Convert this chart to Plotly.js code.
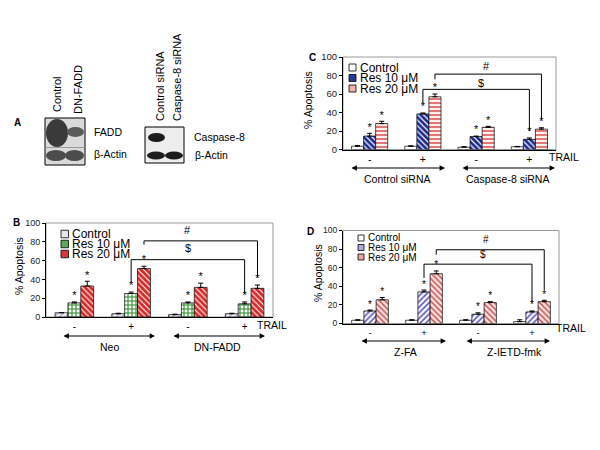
<!DOCTYPE html>
<html>
<head>
<meta charset="utf-8">
<script src="https://cdn.plot.ly/plotly-3.0.1.min.js"></script>
<style>html,body{margin:0;padding:0;background:#fff}</style>
</head>
<body>
<div id="chart" style="width:600px;height:450px"></div>
<script>
// each panel: 4 groups along x, TRAIL - / + / - / +
const groupPos = [0, 1, 2, 3]
const trailTicks = ['-', '+', '-', '+']
const seriesNames = ['Control', 'Res 10 μM', 'Res 20 μM']

// B: Neo / DN-FADD
const bControl = [4.5, 3.5, 2.5, 3.5]
const bControlErr = [0.3, 0.5, 0.5, 0.5]
const bRes10 = [15, 25, 15, 14]
const bRes10Err = [1, 1.5, 1, 2]
const bRes20 = [33, 51.5, 31.5, 30.5]
const bRes20Err = [5, 2.5, 4.5, 3.5]
const bGroups = ['Neo', 'DN-FADD']

// C: control siRNA / caspase-8 siRNA
const cControl = [3.5, 3.5, 2.5, 3]
const cControlErr = [0.8, 0.5, 0.5, 0.3]
const cRes10 = [14.5, 38.5, 14, 11]
const cRes10Err = [3, 1, 0.5, 1.5]
const cRes20 = [28, 57, 24, 22]
const cRes20Err = [2.5, 3, 1, 1.5]
const cGroups = ['Control siRNA', 'Caspase-8 siRNA']

// D: Z-FA / Z-IETD-fmk
const dControl = [3.5, 3.5, 3.5, 2]
const dControlErr = [0.5, 0.5, 0.5, 2]
const dRes10 = [13.5, 34, 10, 12.5]
const dRes10Err = [1, 2, 1.5, 1]
const dRes20 = [25.5, 53.5, 22.5, 23.5]
const dRes20Err = [2.5, 3, 1, 1.5]
const dGroups = ['Z-FA', 'Z-IETD-fmk']

// significance brackets: [bar level, left end, right end], labels: [x, y]
const bHash = [81, 77, 42], bDollar = [61, 37, 25]
const bHashLabel = [2.0, 93], bDollarLabel = [2.0, 73]
const cHash = [81.5, 76, 31.5], cDollar = [65, 50, 20]
const cHashLabel = [2.2, 90], cDollarLabel = [2.1, 72]
const dHash = [79.3, 74, 36], dDollar = [63.8, 49, 23]
const dHashLabel = [2.15, 90], dDollarLabel = [2.1, 74]

const FONT = 'Arial, "Liberation Sans", sans-serif'
const W = 600, H = 450
const BARGAP = 0.32

function px(x){ return x / W }
function py(y){ return 1 - y / H }
// centre of bar k inside group i (barmode group, 3 traces)
function barX(i, k){ return i + (k - 1) * (1 - BARGAP) / 3 }

let traces = []
let shapes = []
let annotations = []
let layout = {
  width: W, height: H,
  margin: {l: 0, r: 0, t: 0, b: 0},
  paper_bgcolor: '#fff',
  plot_bgcolor: 'rgba(0,0,0,0)',
  showlegend: false,
  barmode: 'group',
  bargap: BARGAP,
  bargroupgap: 0,
  font: {family: FONT, color: '#000'}
}

function text(x, y, t, size, opts){
  let a = {xref: 'paper', yref: 'paper', x: px(x), y: py(y), text: t, showarrow: false,
    font: {size: size, family: FONT, color: '#000'}, xanchor: 'center', yanchor: 'middle'}
  return Object.assign(a, opts || {})
}
function box(x0, y0, x1, y1, kind, fill, line){
  return {type: kind, xref: 'paper', yref: 'paper', x0: px(x0), x1: px(x1), y0: py(y1), y1: py(y0),
    fillcolor: fill, line: line || {width: 0}}
}
function arrow(x0, x1, y){
  return {xref: 'paper', yref: 'paper', x: px(x1), y: py(y), ax: -(x1 - x0), ay: 0,
    axref: 'pixel', ayref: 'pixel', text: '', showarrow: true, arrowhead: 2, startarrowhead: 2,
    arrowside: 'end+start', arrowsize: 0.9, arrowwidth: 1.2, arrowcolor: '#000'}
}

function panel(p){
  let n = p.axis
  let xa = 'x' + n, ya = 'y' + n
  let xkey = 'xaxis' + n, ykey = 'yaxis' + n
  layout[xkey] = {
    domain: [px(p.box[0]), px(p.box[1])], anchor: ya, range: [-0.5, 3.5],
    tickvals: groupPos, ticktext: trailTicks, tickfont: {size: p.tick + 1},
    showline: true, linecolor: '#000', linewidth: 1, ticks: '', showgrid: false, zeroline: false
  }
  layout[ykey] = {
    domain: [py(p.box[3]), py(p.box[2])], anchor: xa, range: [0, 100], tick0: 0, dtick: 20,
    ticks: 'outside', ticklen: 3, tickcolor: '#000', tickfont: {size: p.tick, color: '#222'},
    showline: true, linecolor: '#000', linewidth: 1, showgrid: false, zeroline: false
  }
  // grey plot-area frame
  shapes.push({type: 'rect', xref: xa + ' domain', yref: ya + ' domain', x0: 0, x1: 1, y0: 0, y1: 1,
    line: {color: '#9a9a9a', width: 1}, layer: 'below'})

  let starX = [], starY = []
  p.series.forEach(function(s, k){
    traces.push({
      type: 'bar', name: seriesNames[k], x: groupPos, y: s.y, xaxis: xa, yaxis: ya,
      marker: {color: s.pattern ? s.pattern.bgcolor : s.swatch, line: {color: '#000', width: 0.7},
        pattern: s.pattern || {shape: ''}},
      error_y: {type: 'data', symmetric: false, array: s.err, arrayminus: s.err.map(function(){ return 0 }),
        color: '#000', thickness: 1, width: 2.5}
    })
    if(k > 0){
      for(let i = 0; i < groupPos.length; i++){
        starX.push(barX(groupPos[i], k))
        starY.push(s.y[i] + s.err[i])
      }
    }
    // legend row
    let ry = p.legend.rows[k]
    let sw = p.legend.sw
    shapes.push(box(p.legend.x, ry - sw / 2, p.legend.x + sw, ry + sw / 2, 'rect', s.swatch,
      {color: '#000', width: 0.8}))
    annotations.push(text(p.legend.x + sw + 1.5, ry, seriesNames[k], p.legend.size, {xanchor: 'left'}))
  })
  traces.push({type: 'scatter', mode: 'text', x: starX, y: starY, xaxis: xa, yaxis: ya,
    text: starX.map(function(){ return '*' }), textposition: 'top center',
    textfont: {size: p.star, family: FONT, color: '#000'}, cliponaxis: false, hoverinfo: 'skip'})

  // brackets
  ;[[p.hash, 2, p.hashLabel, '#'], [p.dollar, 1, p.dollarLabel, '$']].forEach(function(b){
    let lv = b[0], k = b[1]
    let x1 = barX(1, k), x2 = barX(3, k)
    shapes.push({type: 'path', xref: xa, yref: ya,
      path: 'M' + x1 + ',' + lv[1] + ' L' + x1 + ',' + lv[0] + ' L' + x2 + ',' + lv[0] + ' L' + x2 + ',' + lv[2],
      line: {color: '#000', width: 1}})
    annotations.push({xref: xa, yref: ya, x: b[2][0], y: b[2][1], text: b[3], showarrow: false,
      font: {size: p.mark, family: FONT, color: '#000'}})
  })

  annotations.push(text(p.letter[0], p.letter[1], '<b>' + p.letter[2] + '</b>', 10))
  annotations.push(text(p.ytitle[0], p.ytitle[1], '% Apoptosis', 10.5, {textangle: -90}))
  annotations.push(text(p.trail[0], p.trail[1], 'TRAIL', 10.5))
  p.arrows.forEach(function(a, j){
    annotations.push(arrow(a[0], a[1], p.arrowY))
    annotations.push(text(p.groupX[j], p.arrowY + 11, p.groups[j], 10.5))
  })
}

panel({
  axis: '', box: [46, 273, 223, 317], tick: 9, star: 11, mark: 11,
  series: [
    {y: bControl, err: bControlErr, swatch: '#e6e6ef',
      pattern: {shape: '/', bgcolor: '#f2f2f8', fgcolor: '#a4a4c4', size: 4, solidity: 0.3}},
    {y: bRes10, err: bRes10Err, swatch: '#5ea85e',
      pattern: {shape: '+', bgcolor: '#ffffff', fgcolor: '#1f8a1f', size: 4, solidity: 0.45}},
    {y: bRes20, err: bRes20Err, swatch: '#d63a3a',
      pattern: {shape: '\\', bgcolor: '#d42a2a', fgcolor: '#ffffff', size: 4, solidity: 0.28}}
  ],
  legend: {x: 61, sw: 7.5, rows: [234, 244, 254], size: 12},
  hash: bHash, dollar: bDollar, hashLabel: bHashLabel, dollarLabel: bDollarLabel,
  letter: [16, 222, 'B'], ytitle: [19, 266], trail: [272, 325],
  arrowY: 336, arrows: [[62, 155], [172, 265]], groupX: [110, 217], groups: bGroups
})

panel({
  axis: '2', box: [343, 556, 57, 149.5], tick: 9.5, star: 11, mark: 11,
  series: [
    {y: cControl, err: cControlErr, swatch: '#ffffff'},
    {y: cRes10, err: cRes10Err, swatch: '#2a3a98',
      pattern: {shape: '\\', bgcolor: '#1a2a8e', fgcolor: '#ffffff', size: 4, solidity: 0.3}},
    {y: cRes20, err: cRes20Err, swatch: '#f2b0b0',
      pattern: {shape: '-', bgcolor: '#fff2f2', fgcolor: '#e06a6a', size: 4, solidity: 0.45}}
  ],
  legend: {x: 349, sw: 7, rows: [67.5, 78, 88.5], size: 12},
  hash: cHash, dollar: cDollar, hashLabel: cHashLabel, dollarLabel: cDollarLabel,
  letter: [313, 57, 'C'], ytitle: [308, 100], trail: [564, 157],
  arrowY: 168, arrows: [[350, 445], [461, 555]], groupX: [397, 507], groups: cGroups
})

panel({
  axis: '3', box: [343, 559, 230.5, 323.5], tick: 8.5, star: 10, mark: 10,
  series: [
    {y: dControl, err: dControlErr, swatch: '#ffffff'},
    {y: dRes10, err: dRes10Err, swatch: '#aaaade',
      pattern: {shape: '/', bgcolor: '#f4f4fc', fgcolor: '#4a4aa8', size: 4, solidity: 0.35}},
    {y: dRes20, err: dRes20Err, swatch: '#eaa2a2',
      pattern: {shape: '\\', bgcolor: '#f9e0e0', fgcolor: '#c84848', size: 4, solidity: 0.35}}
  ],
  legend: {x: 358, sw: 6, rows: [238, 247.5, 257], size: 10},
  hash: dHash, dollar: dDollar, hashLabel: dHashLabel, dollarLabel: dDollarLabel,
  letter: [310, 231, 'D'], ytitle: [318, 273], trail: [571, 328],
  arrowY: 341, arrows: [[360, 446], [465, 550]], groupX: [405, 514], groups: dGroups
})

// A: western blots
annotations.push(text(17, 123, '<b>A</b>', 10))
shapes.push(box(45, 118, 85, 165, 'rect', '#dadada', {color: '#000', width: 1}))
shapes.push(box(46, 119, 68, 147, 'circle', '#3a3a3a'))
shapes.push(box(67, 127, 84, 137, 'circle', '#5a5a5a'))
shapes.push(box(45.5, 147, 84.5, 148, 'rect', '#9a9a9a'))
shapes.push(box(46, 150, 66, 161, 'circle', '#4c4c4c'))
shapes.push(box(65, 150, 84, 161, 'circle', '#4c4c4c'))
shapes.push(box(145, 127, 184, 163, 'rect', '#ededed', {color: '#000', width: 1}))
shapes.push(box(148, 133, 165, 142, 'circle', '#1c1c1c'))
shapes.push(box(147, 151.5, 165, 159.5, 'circle', '#1c1c1c'))
shapes.push(box(165, 151.5, 183, 159.5, 'circle', '#1c1c1c'))
annotations.push(text(57, 95, 'Control', 11, {textangle: -90}))
annotations.push(text(78, 90, 'DN-FADD', 11, {textangle: -90}))
annotations.push(text(160, 86, 'Control siRNA', 11, {textangle: -90}))
annotations.push(text(177, 77, 'Caspase-8 siRNA', 11, {textangle: -90}))
annotations.push(text(92, 132, 'FADD', 10.5, {xanchor: 'left'}))
annotations.push(text(92, 154, 'β-Actin', 10.5, {xanchor: 'left'}))
annotations.push(text(192, 137, 'Caspase-8', 10.5, {xanchor: 'left'}))
annotations.push(text(193, 155, 'β-Actin', 10.5, {xanchor: 'left'}))

layout.shapes = shapes
layout.annotations = annotations

Plotly.newPlot('chart', traces, layout, {staticPlot: true})
</script>
</body>
</html>
